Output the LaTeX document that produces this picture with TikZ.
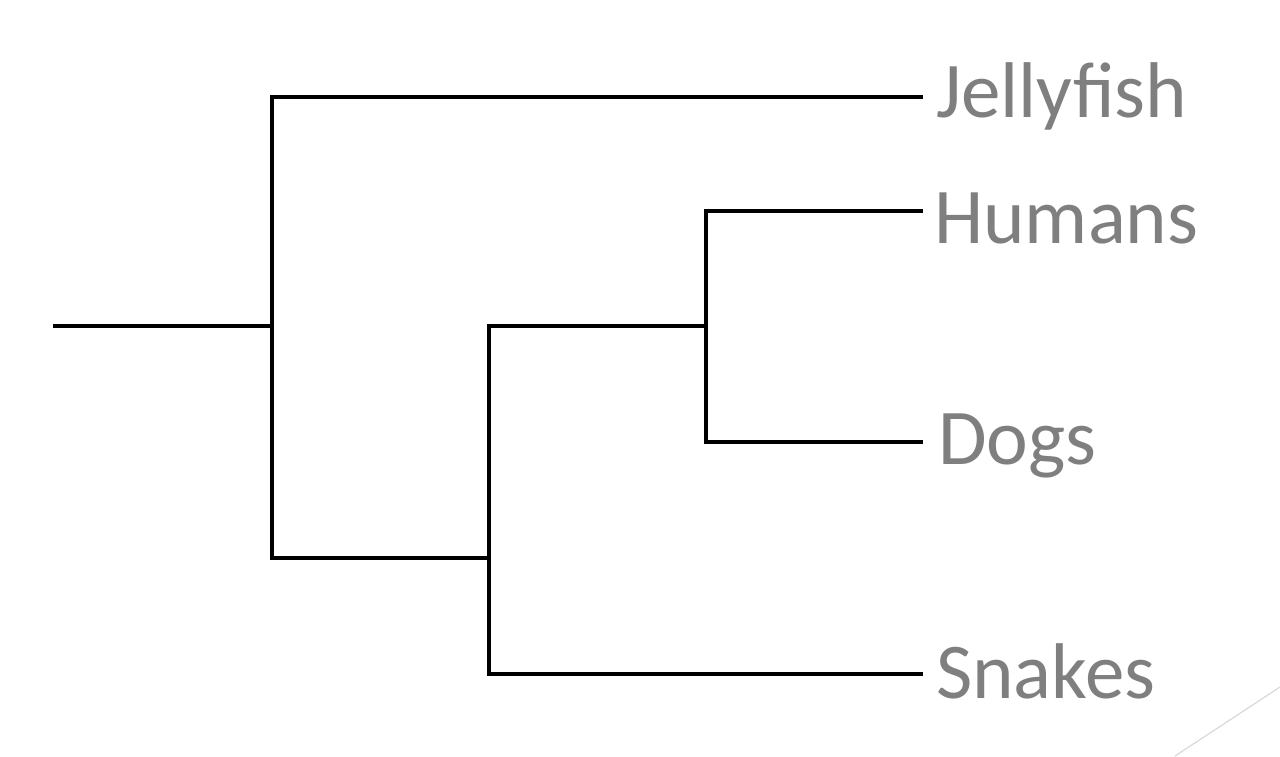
\documentclass[tikz,border=0pt]{standalone}
\usepackage{fontspec}
\setmainfont{Carlito}
\definecolor{labelgray}{HTML}{7F7F7F}
\definecolor{decogray}{HTML}{D9D9D9}
\begin{document}
\begin{tikzpicture}[x=1pt,y=-1pt,
  branch/.style={line width=3.8pt,black,line cap=rect},
  taxon/.style={anchor=base west,inner sep=0pt,text=labelgray,font=\fontsize{79}{90}\selectfont}]
\useasboundingbox (0,0) rectangle (1280,756);
% internal nodes
\coordinate (root) at (55,326);
\coordinate (n1) at (272,326);
\coordinate (n1t) at (272,97);
\coordinate (n1b) at (272,558);
\coordinate (n2) at (489,558);
\coordinate (n2t) at (489,326);
\coordinate (n2b) at (489,674);
\coordinate (n3) at (706,326);
\coordinate (n3t) at (706,211);
\coordinate (n3b) at (706,442);
% leaf ends
\coordinate (lj) at (921,97);
\coordinate (lh) at (921,211);
\coordinate (ld) at (921,442);
\coordinate (ls) at (921,674);
% labels
\node[taxon] (jelly) at (936,117) {Jellyfish};
\node[taxon] (hum) at (934,243) {Humans};
\node[taxon] (dog) at (938,464) {Dogs};
\node[taxon] (snk) at (936,698) {Snakes};
% branches
\draw[branch] (root) -- (n1);
\draw[branch] (lj) -- (n1t) -- (n1b) -- (n2);
\draw[branch] (n2t) -- (n2b) -- (ls);
\draw[branch] (n2t) -- (n3);
\draw[branch] (lh) -- (n3t) -- (n3b) -- (ld);
% decorative corner line
\coordinate (d1) at (1175,756);
\coordinate (d2) at (1280,687);
\draw[decogray,line width=1.2pt] (d1) -- (d2);
\end{tikzpicture}
\end{document}
